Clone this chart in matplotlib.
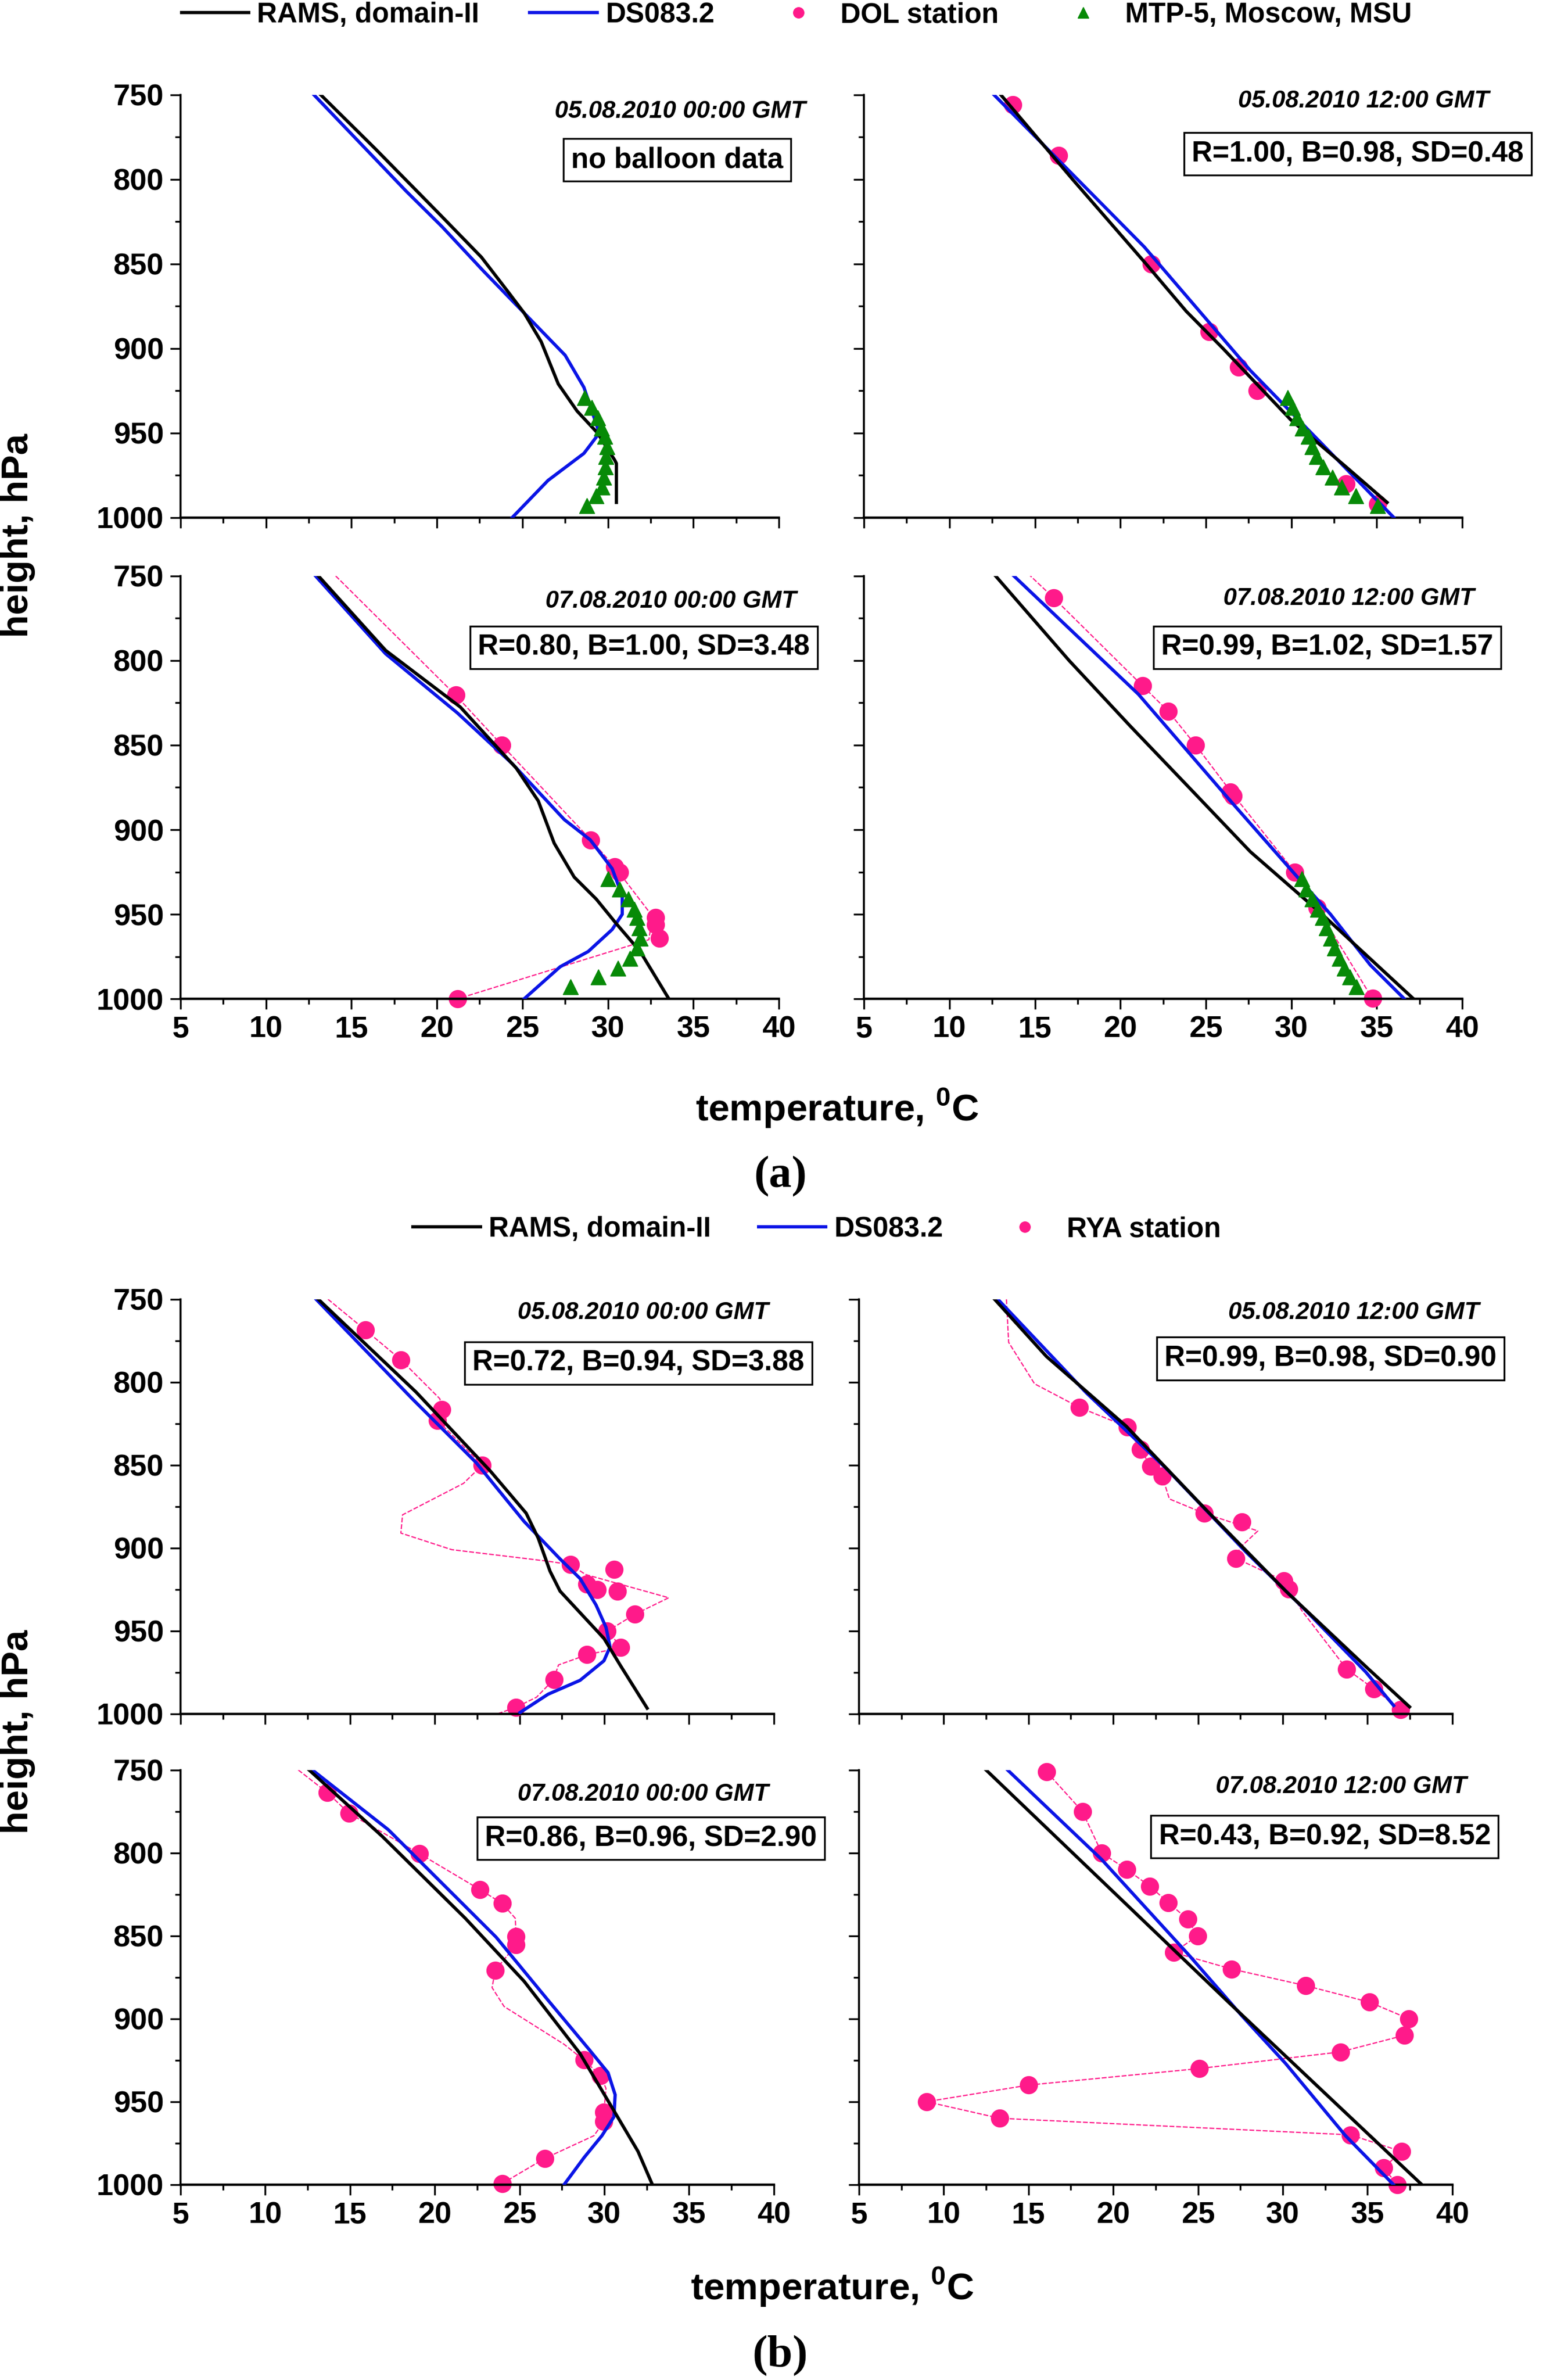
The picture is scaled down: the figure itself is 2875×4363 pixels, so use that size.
import matplotlib
matplotlib.use('Agg')
import matplotlib.pyplot as plt
from matplotlib.lines import Line2D
from matplotlib.ticker import MultipleLocator

# ---------------- data (temperature in C, pressure in hPa) ----------------
# MTP-5 profiler levels (shared by the (a) panels)
mtp_p = [929, 935, 941, 947, 952, 958, 964, 970, 976, 982, 987, 993]

# (a) 05.08.2010 00:00
a1_rams_t = [13.2, 16.4, 20.0, 22.6, 24.2, 25.1, 26.1, 27.1, 28.2, 29.4, 30.4, 30.5, 30.5]
a1_rams_p = [750, 782, 819, 846, 867, 879, 896, 921, 937, 950, 966, 968, 991]
a1_ds_t = [12.8, 18.2, 20.3, 22.7, 25.1, 27.5, 28.6, 29.5, 28.6, 26.5, 24.4]
a1_ds_p = [750, 807, 828, 854, 879, 904, 923, 950, 962, 978, 1000]
a1_mtp_t = [28.65, 29.07, 29.40, 29.63, 29.82, 29.94, 29.89, 29.87, 29.77, 29.65, 29.30, 28.77]

# (a) 05.08.2010 12:00
a2_rams_t = [13.0, 17.2, 21.5, 23.85, 26.0, 29.95, 33.2, 35.6]
a2_rams_p = [750, 800, 850, 878, 900, 942, 970, 991]
a2_ds_t = [12.6, 21.4, 27.6, 36.0]
a2_ds_p = [750, 840, 913, 1000]
a2_dol_t = [13.7, 16.4, 21.8, 25.2, 26.9, 28.0, 33.2, 35.05]
a2_dol_p = [756, 786, 850, 890, 911, 925, 980, 992]
a2_mtp_t = [29.78, 30.06, 30.34, 30.64, 30.99, 31.23, 31.46, 31.86, 32.40, 32.94, 33.76, 35.05]

# (a) 07.08.2010 00:00
a3_rams_t = [13.07, 17.0, 21.37, 24.64, 25.93, 26.86, 28.03, 29.32, 30.49, 31.89, 33.57]
a3_rams_p = [750, 794, 827.5, 863.6, 883, 908, 928, 941, 955.5, 972, 1000]
a3_ds_t = [12.9, 17.0, 21.2, 24.41, 27.45, 28.97, 30.25, 30.84, 30.84, 30.25, 28.85, 27.21, 25.1]
a3_ds_p = [750, 796, 831, 861, 894, 906, 923, 939, 950, 959, 972, 981, 1000]
a3_dol_t = [21.1, 23.8, 29.0, 30.4, 30.7, 32.8, 32.8, 33.0, 21.2]
a3_dol_p = [820.5, 850, 906, 922, 925, 952, 956, 964, 1000]
a3_dol_line_t = [9.1, 21.1, 23.8, 29.0, 30.4, 32.6, 32.4, 21.2]
a3_dol_line_p = [700, 820.5, 850, 906, 922, 951, 965, 1000]
a3_mtp_t = [30.02, 30.67, 31.19, 31.54, 31.72, 31.84, 31.89, 31.72, 31.3, 30.6, 29.43, 27.80]

# (a) 07.08.2010 12:00
a4_rams_t = [12.7, 17.0, 20.6, 24.2, 27.6, 31.8, 37.15]
a4_rams_p = [750, 800, 839, 877, 913, 950, 1000]
a4_ds_t = [13.77, 21.06, 26.44, 30.18, 32.29, 34.62, 36.61]
a4_ds_p = [750, 820, 883, 926, 950, 980, 1000]
a4_dol_t = [16.1, 21.3, 22.8, 24.4, 26.45, 26.6, 30.2, 31.5, 34.75]
a4_dol_p = [763, 815, 830, 850, 877.6, 880, 925, 946, 999.6]
a4_dol_line_t = [9.5, 16.1, 21.3, 22.8, 24.4, 26.5, 30.2, 31.5, 34.75]
a4_dol_line_p = [700, 763, 815, 830, 850, 878, 925, 946, 1000]
a4_mtp_t = [30.6, 30.88, 31.23, 31.54, 31.82, 32.05, 32.29, 32.52, 32.80, 33.10, 33.41, 33.81]

# (b) 05.08.2010 00:00
b1_rams_t = [13.13, 18.9, 23.27, 25.39, 26.1, 26.8, 27.39, 28.57, 29.98, 30.93, 32.53]
b1_rams_p = [750, 806, 853.5, 879, 894, 914, 926, 939, 954.5, 970.5, 996.6]
b1_ds_t = [13.0, 18.67, 22.44, 25.27, 27.39, 28.57, 29.51, 30.1, 30.34, 29.98, 28.57, 26.68, 25.03]
b1_ds_p = [750, 810, 848.5, 884, 906.6, 918.4, 934.3, 947.8, 959.6, 968, 979.8, 988.2, 999.2]
b1_rya_t = [15.9, 18.0, 20.4, 20.15, 22.8, 28.0, 30.57, 28.97, 29.58, 30.76, 31.8, 30.17, 30.97, 28.97, 27.04, 24.8]
b1_rya_p = [768.5, 786.5, 816.5, 823, 850, 910, 913, 921.7, 925, 926, 940, 950, 960, 964.3, 979.5, 996]
b1_rya_line_t = [13.7, 15.9, 18.0, 20.3, 20.4, 20.15, 22.8, 21.7, 18.1, 18.0, 21.0, 26.7, 28.0, 28.9,
                 33.8, 31.8, 30.2, 31.0, 29.0, 27.3, 27.0, 26.0, 24.8, 23.7]
b1_rya_line_p = [750, 768.5, 786.5, 810, 816.5, 823, 850, 861, 880, 891, 901, 908, 910, 916,
                 930, 940, 950, 960, 964.3, 970.5, 979.5, 990, 996, 1000]

# (b) 05.08.2010 12:00
b2_rams_t = [13.0, 16.06, 20.77, 25.48, 30.18, 34.89, 37.48]
b2_rams_p = [750, 784.5, 826.6, 877, 926, 971.4, 995.8]
b2_ds_t = [13.19, 18.41, 23.12, 27.83, 31.36, 34.89, 36.54]
b2_ds_p = [750, 806.4, 852, 902.4, 937.7, 974.7, 995]
b2_rya_t = [18.0, 20.82, 21.59, 22.23, 22.89, 25.36, 27.59, 27.24, 30.06, 30.35, 33.78, 35.36, 36.96]
b2_rya_p = [815.2, 826.9, 840.6, 850.7, 856.6, 879.1, 884.2, 906.2, 919.7, 924.6, 973.1, 984.8, 997.5]
b2_rya_line_t = [13.7, 13.83, 15.36, 18.0, 20.82, 21.59, 22.23, 22.89, 23.31, 25.36, 28.53, 27.48,
                 27.24, 30.06, 30.35, 31.12, 33.78, 35.36, 36.96]
b2_rya_line_p = [750, 776, 801, 815.2, 826.9, 840.6, 850.7, 856.6, 870.4, 879.1, 889.7, 899.8,
                 906.2, 919.7, 924.6, 937.7, 973.1, 984.8, 997.5]

# (b) 07.08.2010 00:00
b3_rams_t = [12.59, 16.9, 21.8, 25.27, 28.57, 30.45, 31.99, 32.81]
b3_rams_p = [750, 790, 839.4, 877.4, 921, 953.4, 980, 999.4]
b3_ds_t = [12.78, 17.26, 23.62, 26.68, 29.16, 30.22, 30.64, 30.57, 29.86, 28.8, 27.63]
b3_ds_p = [750, 786, 850.8, 888.8, 919.2, 932.5, 945.8, 959.1, 970.5, 983.8, 1000]
b3_rya_t = [13.67, 14.95, 19.09, 22.68, 23.97, 24.8, 24.8, 23.57, 28.8, 29.79, 29.98, 29.98, 26.49, 23.97]
b3_rya_p = [763.7, 776.2, 800.4, 822.2, 830.4, 850.4, 855.5, 870.7, 924.9, 934.4, 956.3, 962.0, 984.2, 999.4]
b3_rya_line_t = [11.95, 13.67, 14.95, 19.09, 22.68, 23.97, 24.75, 24.8, 24.8, 23.57, 23.38, 24.09,
                 27.63, 28.8, 29.79, 30.1, 29.98, 29.98, 29.39, 26.49, 23.97]
b3_rya_line_p = [750, 763.7, 776.2, 800.4, 822.2, 830.4, 839.4, 850.4, 855.5, 870.7, 881.2, 892.6,
                 915.4, 924.9, 934.4, 942, 956.3, 962, 970.5, 984.2, 999.4]

# (b) 07.08.2010 12:00
b4_rams_t = [12.5, 26.9, 38.2]
b4_rams_p = [750, 891, 1000]
b4_ds_t = [13.77, 19.32, 24.5, 27.57, 30.17, 33.7, 36.53]
b4_ds_p = [750, 804, 862, 898, 927, 970.5, 1000]
b4_rya_t = [16.06, 18.18, 19.32, 20.8, 22.15, 23.25, 24.39, 24.98, 23.56, 26.98, 31.34, 35.12,
            37.43, 37.17, 33.4, 25.09, 15.0, 8.99, 13.3, 33.99, 37.0, 35.94, 36.77]
b4_rya_p = [751, 775, 800, 810, 820, 830, 840, 850, 860, 870, 880, 890,
            900, 910, 920, 930, 940, 950, 960, 970, 980, 990, 1000]

titles = ['05.08.2010 00:00 GMT', '05.08.2010 12:00 GMT',
          '07.08.2010 00:00 GMT', '07.08.2010 12:00 GMT']
a_boxes = ['no balloon data', 'R=1.00, B=0.98, SD=0.48',
           'R=0.80, B=1.00, SD=3.48', 'R=0.99, B=1.02, SD=1.57']
b_boxes = ['R=0.72, B=0.94, SD=3.88', 'R=0.99, B=0.98, SD=0.90',
           'R=0.86, B=0.96, SD=2.90', 'R=0.43, B=0.92, SD=8.52']

# ---------------- style ----------------
plt.rcParams['font.family'] = ['Liberation Sans', 'DejaVu Sans']
plt.rcParams['font.weight'] = 'bold'
plt.rcParams['mathtext.fontset'] = 'custom'
plt.rcParams['mathtext.rm'] = 'Liberation Sans:bold'
plt.rcParams['mathtext.bf'] = 'Liberation Sans:bold'

BLACK = 'black'
BLUE = '#0a14e6'
PINK = '#ff1a8a'
GREEN = '#078a07'
LW = 4.3

fig = plt.figure(figsize=(28.75, 43.63), dpi=100)


def style_axis(ax, show_x, show_y):
    ax.set_xlim(5, 40)
    ax.set_ylim(1000, 750)
    ax.spines['top'].set_visible(False)
    ax.spines['right'].set_visible(False)
    ax.spines['left'].set_linewidth(2.6)
    ax.spines['bottom'].set_linewidth(3.2)
    ax.xaxis.set_major_locator(MultipleLocator(5))
    ax.xaxis.set_minor_locator(MultipleLocator(2.5))
    ax.yaxis.set_major_locator(MultipleLocator(50))
    ax.yaxis.set_minor_locator(MultipleLocator(25))
    ax.tick_params(which='major', direction='out', length=14, width=2.4, labelsize=40, pad=8)
    ax.tick_params(which='minor', direction='out', length=7, width=2.4)
    ax.tick_params(labelbottom=show_x, labelleft=show_y)


def draw_panel(ax, rams, ds, station=None, station_line=None, mtp=None):
    if station_line is not None:
        ax.plot(station_line[0], station_line[1], color=PINK, lw=1.6,
                ls=(0, (4, 1.5)), zorder=1)
    if station is not None:
        ax.plot(station[0], station[1], ls='none', marker='o', ms=23, color=PINK,
                mec=PINK, zorder=2, clip_on=False)
    ax.plot(ds[0], ds[1], color=BLUE, lw=LW, zorder=3)
    ax.plot(rams[0], rams[1], color=BLACK, lw=LW, zorder=4)
    if mtp is not None:
        ax.plot(mtp, mtp_p, ls='none', marker='^', ms=20, color=GREEN, zorder=5, clip_on=False)


def annotate(ax, title, box, tpos, bpos):
    ax.text(tpos[0], tpos[1], title, transform=ax.transAxes, ha='center', va='center',
            fontsize=32, fontstyle='italic', fontweight='bold', clip_on=False)
    ax.text(bpos[0], bpos[1], box, transform=ax.transAxes, ha='center', va='center',
            fontsize=38, fontweight='bold', zorder=10,
            bbox=dict(boxstyle='square,pad=0.27', fc='white', ec='black', lw=2.4))


# axes rectangles [left, bottom, width, height] in figure fractions
a_left, a_right, a_w = 0.1151, 0.5510, 0.3816
b_left, b_right, b_w = 0.1151, 0.5478, 0.3784
a_top_y, a_bot_y, a_h = 0.7825, 0.5803, 0.1777
b_top_y, b_bot_y, b_h = 0.2799, 0.0821, 0.1742

# ----- (a) -----
ax = fig.add_axes([a_left, a_top_y, a_w, a_h])
style_axis(ax, False, True)
draw_panel(ax, (a1_rams_t, a1_rams_p), (a1_ds_t, a1_ds_p), mtp=a1_mtp_t)
annotate(ax, titles[0], a_boxes[0], (0.835, 0.96), (0.83, 0.846))

ax = fig.add_axes([a_right, a_top_y, a_w, a_h])
style_axis(ax, False, False)
draw_panel(ax, (a2_rams_t, a2_rams_p), (a2_ds_t, a2_ds_p),
           station=(a2_dol_t, a2_dol_p), mtp=a2_mtp_t)
annotate(ax, titles[1], a_boxes[1], (0.835, 0.985), (0.825, 0.86))

ax = fig.add_axes([a_left, a_bot_y, a_w, a_h])
style_axis(ax, True, True)
draw_panel(ax, (a3_rams_t, a3_rams_p), (a3_ds_t, a3_ds_p),
           station=(a3_dol_t, a3_dol_p), station_line=(a3_dol_line_t, a3_dol_line_p),
           mtp=a3_mtp_t)
annotate(ax, titles[2], a_boxes[2], (0.82, 0.94), (0.774, 0.831))

ax = fig.add_axes([a_right, a_bot_y, a_w, a_h])
style_axis(ax, True, False)
draw_panel(ax, (a4_rams_t, a4_rams_p), (a4_ds_t, a4_ds_p),
           station=(a4_dol_t, a4_dol_p), station_line=(a4_dol_line_t, a4_dol_line_p),
           mtp=a4_mtp_t)
annotate(ax, titles[3], a_boxes[3], (0.81, 0.946), (0.774, 0.831))

# ----- (b) -----
ax = fig.add_axes([b_left, b_top_y, b_w, b_h])
style_axis(ax, False, True)
draw_panel(ax, (b1_rams_t, b1_rams_p), (b1_ds_t, b1_ds_p),
           station=(b1_rya_t, b1_rya_p), station_line=(b1_rya_line_t, b1_rya_line_p))
annotate(ax, titles[0], b_boxes[0], (0.78, 0.967), (0.772, 0.846))

ax = fig.add_axes([b_right, b_top_y, b_w, b_h])
style_axis(ax, False, False)
draw_panel(ax, (b2_rams_t, b2_rams_p), (b2_ds_t, b2_ds_p),
           station=(b2_rya_t, b2_rya_p), station_line=(b2_rya_line_t, b2_rya_line_p))
annotate(ax, titles[1], b_boxes[1], (0.834, 0.967), (0.795, 0.857))

ax = fig.add_axes([b_left, b_bot_y, b_w, b_h])
style_axis(ax, True, True)
draw_panel(ax, (b3_rams_t, b3_rams_p), (b3_ds_t, b3_ds_p),
           station=(b3_rya_t, b3_rya_p), station_line=(b3_rya_line_t, b3_rya_line_p))
annotate(ax, titles[2], b_boxes[2], (0.78, 0.941), (0.793, 0.835))

ax = fig.add_axes([b_right, b_bot_y, b_w, b_h])
style_axis(ax, True, False)
draw_panel(ax, (b4_rams_t, b4_rams_p), (b4_ds_t, b4_ds_p),
           station=(b4_rya_t, b4_rya_p), station_line=(b4_rya_t, b4_rya_p))
annotate(ax, titles[3], b_boxes[3], (0.813, 0.96), (0.785, 0.839))

# ----- legends -----
h_rams = Line2D([], [], color=BLACK, lw=LW)
h_ds = Line2D([], [], color=BLUE, lw=LW)
h_st = Line2D([], [], ls='none', marker='o', ms=14, color=PINK)
h_mtp = Line2D([], [], ls='none', marker='^', ms=14, color=GREEN)

fig.legend([h_rams, h_ds, h_st, h_mtp],
           ['RAMS, domain-II', 'DS083.2', 'DOL station', 'MTP-5, Moscow, MSU'],
           loc='center', bbox_to_anchor=(0.508, 0.9936), ncol=4, frameon=False,
           fontsize=37, handlelength=2.4, handletextpad=0.3, columnspacing=1.8,
           borderpad=0, borderaxespad=0)
fig.legend([h_rams, h_ds, h_st],
           ['RAMS, domain-II', 'DS083.2', 'RYA station'],
           loc='center', bbox_to_anchor=(0.521, 0.4834), ncol=3, frameon=False,
           fontsize=37, handlelength=2.4, handletextpad=0.3, columnspacing=1.7,
           borderpad=0, borderaxespad=0)

# ----- shared labels -----
for yc in (0.7749, 0.2723):
    fig.text(0.0116, yc, 'height, hPa', rotation=90, ha='center', va='center',
             fontsize=50, fontweight='bold')
fig.text(0.534, 0.5344, r'temperature, $^{0}$C', ha='center', va='center',
         fontsize=50, fontweight='bold')
fig.text(0.531, 0.0389, r'temperature, $^{0}$C', ha='center', va='center',
         fontsize=50, fontweight='bold')
fig.text(0.4976, 0.5057, '(a)', ha='center', va='center', fontsize=60,
         fontweight='bold', family=['Liberation Serif', 'DejaVu Serif'])
fig.text(0.4976, 0.0102, '(b)', ha='center', va='center', fontsize=60,
         fontweight='bold', family=['Liberation Serif', 'DejaVu Serif'])

fig.savefig('out.png', dpi=100)
